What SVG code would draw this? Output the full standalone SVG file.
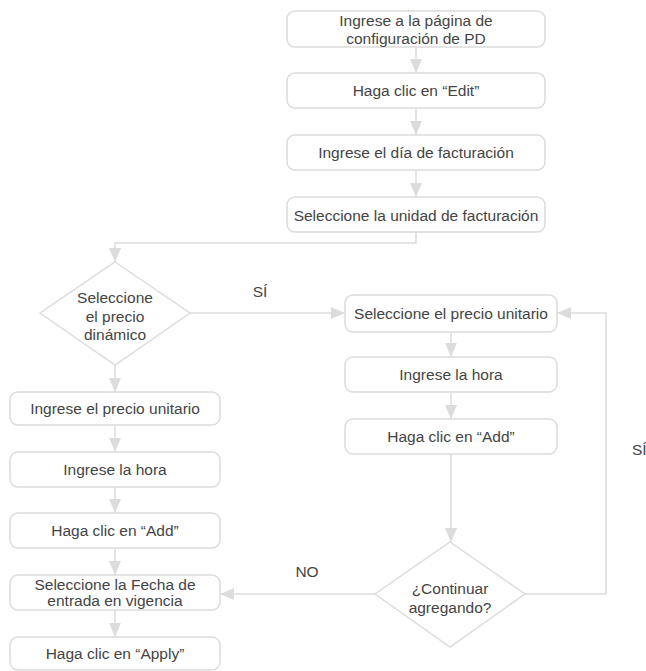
<svg xmlns="http://www.w3.org/2000/svg" width="646" height="671" viewBox="0 0 646 671">
<defs>
<style>
.box{fill:#fff;stroke:#dcdcdc;stroke-width:1.5}
.t{font-family:"Liberation Sans",Arial,sans-serif;font-size:15.5px;fill:#444;text-anchor:middle}
.c{fill:none;stroke:#dcdcdc;stroke-width:1.5}
</style>
<marker id="ah" viewBox="0 0 14 12" refX="14" refY="6" markerWidth="14" markerHeight="12" markerUnits="userSpaceOnUse" orient="auto">
<path d="M0,0 L14,6 L0,12 Z" fill="#dcdcdc"/>
</marker>
</defs>
<rect width="646" height="671" fill="#fff"/>
<g id="connectors">
<path class="c" d="M416,47 V73" marker-end="url(#ah)"/>
<path class="c" d="M416,108 V135" marker-end="url(#ah)"/>
<path class="c" d="M416,170 V197" marker-end="url(#ah)"/>
<path class="c" d="M416,232 V243 H115 V262" marker-end="url(#ah)"/>
<path class="c" d="M190,313 H345" marker-end="url(#ah)"/>
<path class="c" d="M115,365 V392" marker-end="url(#ah)"/>
<path class="c" d="M115,425 V452" marker-end="url(#ah)"/>
<path class="c" d="M115,487 V513" marker-end="url(#ah)"/>
<path class="c" d="M115,548 V575" marker-end="url(#ah)"/>
<path class="c" d="M115,610 V637" marker-end="url(#ah)"/>
<path class="c" d="M451,332 V357" marker-end="url(#ah)"/>
<path class="c" d="M451,392 V419" marker-end="url(#ah)"/>
<path class="c" d="M451,454 V542" marker-end="url(#ah)"/>
<path class="c" d="M525,594 H606 V313 H557" marker-end="url(#ah)"/>
<path class="c" d="M375,594 H220" marker-end="url(#ah)"/>
<text class="t" x="260" y="297">SÍ</text>
<text class="t" x="632" y="455" text-anchor="start" style="text-anchor:start">SÍ</text>
<text class="t" x="307" y="577">NO</text>
</g>
<g id="n1"><rect class="box" x="287" y="11" width="258" height="36" rx="8"/><text class="t" x="416" y="26">Ingrese a la página de</text><text class="t" x="416" y="44">configuración de PD</text></g>
<g id="n2"><rect class="box" x="287" y="73" width="258" height="35" rx="8"/><text class="t" x="416" y="96">Haga clic en “Edit”</text></g>
<g id="n3"><rect class="box" x="287" y="135" width="258" height="35" rx="8"/><text class="t" x="416" y="158">Ingrese el día de facturación</text></g>
<g id="n4"><rect class="box" x="287" y="197" width="258" height="35" rx="8"/><text class="t" x="416" y="221">Seleccione la unidad de facturación</text></g>
<g id="d1"><path class="box" d="M115,262 L190,313 L115,365 L40,313 Z"/><text class="t" x="115" y="303">Seleccione</text><text class="t" x="115" y="322">el precio</text><text class="t" x="115" y="340">dinámico</text></g>
<g id="l1"><rect class="box" x="10" y="392" width="210" height="33" rx="8"/><text class="t" x="115" y="414">Ingrese el precio unitario</text></g>
<g id="l2"><rect class="box" x="10" y="452" width="210" height="35" rx="8"/><text class="t" x="115" y="475">Ingrese la hora</text></g>
<g id="l3"><rect class="box" x="10" y="513" width="210" height="35" rx="8"/><text class="t" x="115" y="536">Haga clic en “Add”</text></g>
<g id="l4"><rect class="box" x="10" y="575" width="210" height="35" rx="8"/><text class="t" x="115" y="590">Seleccione la Fecha de</text><text class="t" x="115" y="606">entrada en vigencia</text></g>
<g id="l5"><rect class="box" x="10" y="637" width="210" height="33" rx="8"/><text class="t" x="115" y="659">Haga clic en “Apply”</text></g>
<g id="r1"><rect class="box" x="345" y="295" width="212" height="37" rx="8"/><text class="t" x="451" y="319">Seleccione el precio unitario</text></g>
<g id="r2"><rect class="box" x="345" y="357" width="212" height="35" rx="8"/><text class="t" x="451" y="380">Ingrese la hora</text></g>
<g id="r3"><rect class="box" x="345" y="419" width="212" height="35" rx="8"/><text class="t" x="451" y="442">Haga clic en “Add”</text></g>
<g id="d2"><path class="box" d="M450,542 L525,594 L450,647 L375,594 Z"/><text class="t" x="450" y="594">¿Continuar</text><text class="t" x="450" y="613">agregando?</text></g>
</svg>
